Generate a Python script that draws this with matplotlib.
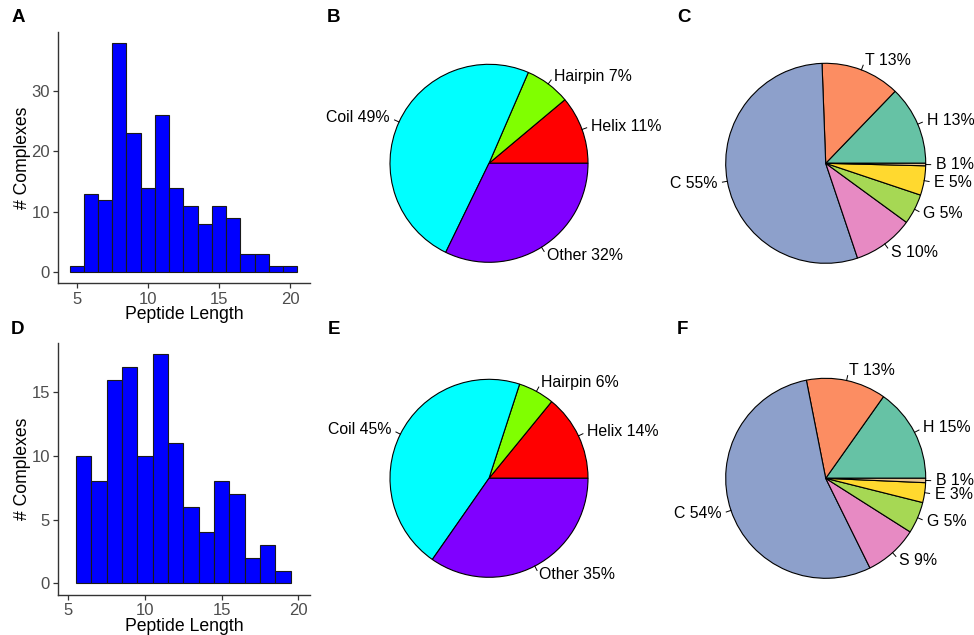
import numpy as np
import matplotlib
matplotlib.use("Agg")
import matplotlib.pyplot as plt

plt.rcParams['font.family'] = ['Liberation Sans', 'DejaVu Sans']

# ---------------- data ----------------
# Panel A histogram
a_lengths = [5, 6, 7, 8, 9, 10, 11, 12, 13, 14, 15, 16, 17, 18, 19, 20]
a_counts = [1, 13, 12, 38, 23, 14, 26, 14, 11, 8, 11, 9, 3, 3, 1, 1]
# Panel D histogram
d_lengths = [6, 7, 8, 9, 10, 11, 12, 13, 14, 15, 16, 17, 18, 19]
d_counts = [10, 8, 16, 17, 10, 18, 11, 6, 4, 8, 7, 2, 3, 1]

# Panel B / E pies (secondary structure classes)
ss_names = ["Helix", "Hairpin", "Coil", "Other"]
ss_colors = ["#FF0000", "#80FF00", "#00FFFF", "#8000FF"]
b_share = [11.1, 7.4, 49.3, 32.2]
b_pct = [11, 7, 49, 32]
e_share = [14.1, 5.9, 45.3, 34.7]
e_pct = [14, 6, 45, 35]

# Panel C / F pies (DSSP classes)
dssp_names = ["H", "T", "C", "S", "G", "E", "B"]
dssp_colors = ["#66C2A5", "#FC8D62", "#8DA0CB", "#E78AC3", "#A6D854", "#FFD92F", "#E5C494"]
c_share = [12.8, 12.8, 54.6, 9.8, 4.9, 4.75, 0.4]
c_pct = [13, 13, 55, 10, 5, 5, 1]
f_share = [15.2, 12.9, 54.2, 8.7, 5.1, 3.2, 0.7]
f_pct = [15, 13, 54, 9, 5, 3, 1]

W, H = 974, 635
fig = plt.figure(figsize=(W / 100, H / 100), dpi=100)


def px_axes(left, top, right, bottom):
    return fig.add_axes([left / W, 1 - bottom / H, (right - left) / W, (bottom - top) / H])


def hist_panel(ax, xs, ys, xlim, ylim, xticks, yticks):
    ax.bar(xs, ys, width=1.0, color="#0000FF", edgecolor="#1a1a1a", linewidth=0.8)
    ax.set_xlim(*xlim)
    ax.set_ylim(*ylim)
    ax.set_xticks(xticks)
    ax.set_yticks(yticks)
    for s in ["top", "right"]:
        ax.spines[s].set_visible(False)
    for s in ["left", "bottom"]:
        ax.spines[s].set_color("#333333")
        ax.spines[s].set_linewidth(1.0)
    ax.tick_params(axis="both", length=3.5, width=0.9, color="#333333",
                   labelcolor="#4D4D4D", labelsize=12, pad=2.5)
    ax.set_xlabel("Peptide Length", fontsize=12.7, color="black", labelpad=-0.5)
    ax.set_ylabel("# Complexes", fontsize=12.7, color="black", labelpad=0.5)
    ax.patch.set_alpha(0)


axA = px_axes(58.3, 31.7, 310, 283.3)
hist_panel(axA, a_lengths, a_counts, (3.71, 21.4), (-1.82, 39.8), [5, 10, 15, 20], [0, 10, 20, 30])
axD = px_axes(58.3, 342.7, 310, 595)
hist_panel(axD, d_lengths, d_counts, (4.35, 20.76), (-0.92, 18.9), [5, 10, 15, 20], [0, 5, 10, 15])


def pie_panel(cx, cy, r, shares, names, pcts, colors):
    L = 1.6
    half = r * L
    ax = px_axes(cx - half, cy - half, cx + half, cy + half)
    ax.set_xlim(-L, L)
    ax.set_ylim(-L, L)
    ax.set_aspect("equal")
    ax.axis("off")
    labels = [f"{n} {p}%" for n, p in zip(names, pcts)]
    wedges, texts = ax.pie(shares, colors=colors, startangle=0, counterclock=True,
                           labels=labels, labeldistance=1.1, radius=1.0,
                           wedgeprops=dict(edgecolor="black", linewidth=0.8),
                           textprops=dict(fontsize=11.4, color="black"))
    for t in texts:
        t.set_va("center")
        t.set_clip_on(False)
    for w in wedges:
        ang = np.deg2rad((w.theta1 + w.theta2) / 2)
        ax.plot([np.cos(ang), 1.05 * np.cos(ang)], [np.sin(ang), 1.05 * np.sin(ang)],
                color="black", linewidth=0.7, clip_on=False)
    ax.set_xlim(-L, L)
    ax.set_ylim(-L, L)
    return ax


pie_panel(489, 163.3, 99, b_share, ss_names, b_pct, ss_colors)
pie_panel(489, 478.3, 99, e_share, ss_names, e_pct, ss_colors)
pie_panel(825.7, 163.3, 100, c_share, dssp_names, c_pct, dssp_colors)
pie_panel(825.7, 478.3, 100, f_share, dssp_names, f_pct, dssp_colors)

for letter, x, y in [("A", 18, 18), ("B", 334, 18), ("C", 684, 18),
                     ("D", 18, 330), ("E", 334, 330), ("F", 682, 330)]:
    fig.text(x / W, 1 - y / H, letter, fontsize=13.5, fontweight="bold",
             ha="center", va="center")

fig.savefig("out.png", dpi=100)
